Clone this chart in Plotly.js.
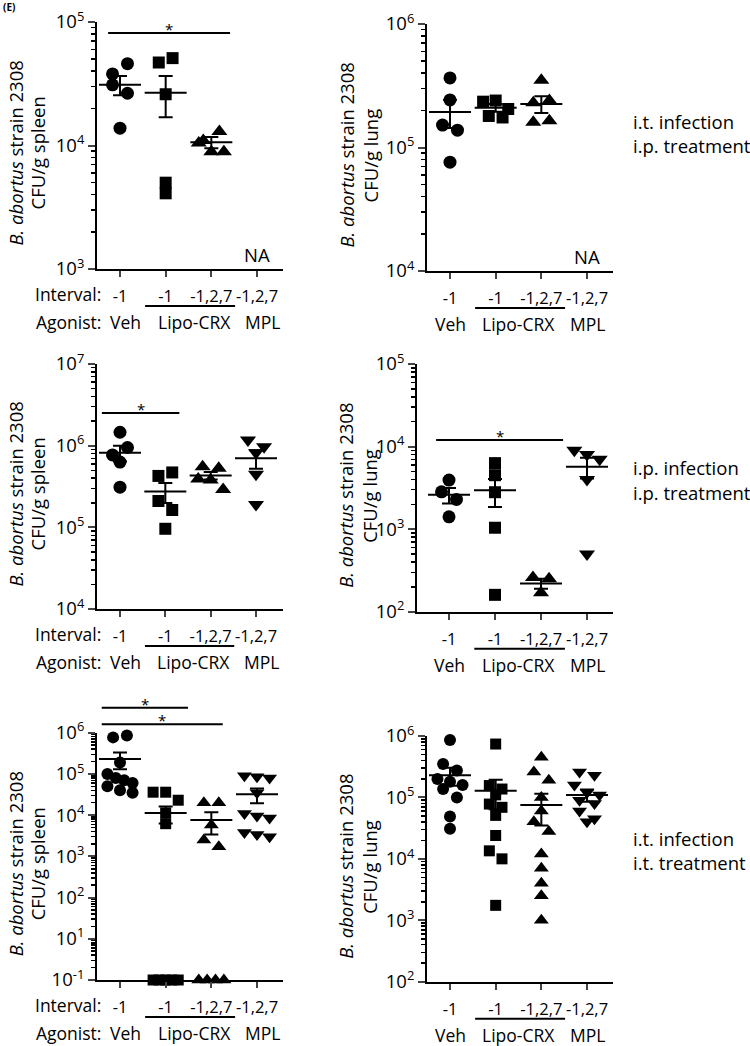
<!DOCTYPE html>
<html><head><meta charset="utf-8">
<script src="https://cdn.plot.ly/plotly-3.0.1.min.js"></script>
<style>body{margin:0;background:#fff}#chart{width:750px;height:1046px}</style>
</head><body><div id="chart"></div>
<script>
// ---------------- DATA ----------------
const intervalLabels = ["-1", "-1", "-1,2,7", "-1,2,7"];
const agonistLabels = ["Veh", "Lipo-CRX", "MPL"];
const routeLabels = [["i.t. infection", "i.p. treatment"], ["i.p. infection", "i.p. treatment"], ["i.t. infection", "i.t. treatment"]];

// Row 1: i.t. infection, i.p. treatment (NA for MPL)
const spleen1_veh   = [3.8e4, 4.6e4, 3.1e4, 2.65e4, 1.38e4];
const spleen1_lipo1 = [4.7e4, 5.1e4, 2.6e4, 4.1e3, 5.0e3];
const spleen1_lipo3 = [1.1e4, 1.3e4, 1.05e4, 8.9e3, 8.9e3];
const spleen1_mpl   = [];
const spleen1_mean  = [3.1e4, 2.67e4, 1.06e4, null];
const spleen1_sem   = [5.5e3, 9.8e3, 1.1e3, null];

const lung1_veh   = [3.66e5, 2.43e5, 1.52e5, 1.38e5, 7.6e4];
const lung1_lipo1 = [2.35e5, 2.4e5, 2.05e5, 1.8e5, 1.75e5];
const lung1_lipo3 = [3.5e5, 2.3e5, 2.4e5, 1.6e5, 1.65e5];
const lung1_mpl   = [];
const lung1_mean  = [1.94e5, 2.1e5, 2.25e5, null];
const lung1_sem   = [5.0e4, 1.5e4, 3.5e4, null];

// Row 2: i.p. infection, i.p. treatment
const spleen2_veh   = [1.46e6, 7.7e5, 9.5e5, 6.3e5, 3.1e5];
const spleen2_lipo1 = [4.26e5, 4.7e5, 2.1e5, 1.63e5, 9.6e4];
const spleen2_lipo3 = [5.5e5, 5.3e5, 3.9e5, 3.8e5, 2.9e5];
const spleen2_mpl   = [1.17e6, 9.7e5, 8.2e5, 4.46e5, 1.9e5];
const spleen2_mean  = [8.2e5, 2.74e5, 4.3e5, 7.0e5];
const spleen2_sem   = [1.8e5, 7.5e4, 4.5e4, 1.8e5];

const lung2_veh   = [3.93e3, 2.83e3, 2.29e3, 1.41e3];
const lung2_lipo1 = [6.3e3, 4.5e3, 2.8e3, 1.04e3, 1.6e2];
const lung2_lipo3 = [2.6e2, 2.5e2, 1.7e2];
const lung2_mpl   = [9.0e3, 8.0e3, 7.0e3, 4.0e3, 5.0e2];
const lung2_mean  = [2.6e3, 2.96e3, 2.2e2, 5.7e3];
const lung2_sem   = [5.5e2, 1.1e3, 3.0e1, 1.6e3];

// Row 3: i.t. infection, i.t. treatment (0.1 = below detection, drawn on the 10^-1 baseline)
const spleen3_veh   = [7.7e5, 8.5e5, 1.9e5, 1.0e5, 8.0e4, 7.0e4, 6.0e4, 5.0e4, 4.0e4, 3.5e4];
const spleen3_lipo1 = [3.6e4, 3.6e4, 2.3e4, 1.13e4, 6.2e3, 0.1, 0.1, 0.1, 0.1, 0.1];
const spleen3_lipo3 = [2.0e4, 2.0e4, 5.8e3, 2.5e3, 1.7e3, 0.1, 0.1, 0.1, 0.1];
const spleen3_mpl   = [9.0e4, 8.5e4, 8.0e4, 3.5e4, 1.1e4, 9.5e3, 8.5e3, 3.8e3, 3.4e3, 3.0e3];
const spleen3_mean  = [2.3e5, 1.13e4, 7.6e3, 3.2e4];
const spleen3_sem   = [1.0e5, 5.0e3, 4.2e3, 1.25e4];

const lung3_veh   = [8.6e5, 3.5e5, 2.0e5, 2.75e5, 1.8e5, 1.37e5, 1.6e5, 1.0e5, 3.1e4, 4.9e4];
const lung3_lipo1 = [7.4e5, 1.56e5, 1.37e5, 1.1e5, 7.8e4, 6.9e4, 5.1e4, 2.4e4, 1.35e4, 1.0e4, 1.75e3];
const lung3_lipo3 = [4.5e5, 2.6e5, 1.9e5, 1.0e5, 6.0e4, 4.0e4, 2.8e4, 1.2e4, 7.0e3, 4.0e3, 2.5e3, 1.0e3];
const lung3_mpl   = [2.6e5, 2.3e5, 1.6e5, 1.2e5, 1.1e5, 9.0e4, 8.0e4, 6.0e4, 4.5e4, 4.0e4];
const lung3_mean  = [2.3e5, 1.29e5, 7.5e4, 1.1e5];
const lung3_sem   = [7.5e4, 6.5e4, 4.0e4, 2.5e4];

// ---------------- LAYOUT HELPERS ----------------
const W = 750, H = 1046;
const FONT = "Open Sans, Noto Sans, sans-serif";
const FS = 18.5, XFS = 17.5, TFS = 16.5;
const px2x = x => x / W, px2y = y => 1 - y / H;
const symbols = ['circle', 'square', 'triangle-up', 'triangle-down'];

const panels = [
  {vals:[spleen1_veh,spleen1_lipo1,spleen1_lipo3,spleen1_mpl], mean:spleen1_mean, sem:spleen1_sem, organ:'spleen',
   px:[97,283], py:[22,269], yr:[3,5], cats:[120,257], left:true, ms:[13,12,14,14], na:true},
  {vals:[lung1_veh,lung1_lipo1,lung1_lipo3,lung1_mpl], mean:lung1_mean, sem:lung1_sem, organ:'lung',
   px:[427,613], py:[24,271], yr:[4,6], cats:[450,587], left:false, ms:[13,12,14,14], na:true},
  {vals:[spleen2_veh,spleen2_lipo1,spleen2_lipo3,spleen2_mpl], mean:spleen2_mean, sem:spleen2_sem, organ:'spleen',
   px:[97,283], py:[364,609], yr:[4,7], cats:[120,256], left:true, ms:[13,12,14,14]},
  {vals:[lung2_veh,lung2_lipo1,lung2_lipo3,lung2_mpl], mean:lung2_mean, sem:lung2_sem, organ:'lung',
   px:[417,613], py:[364,611.7], yr:[2,5], cats:[449,587], left:false, ms:[13,12,14,14]},
  {vals:[spleen3_veh,spleen3_lipo1,spleen3_lipo3,spleen3_mpl], mean:spleen3_mean, sem:spleen3_sem, organ:'spleen',
   px:[97,283], py:[732.7,980], yr:[0,6], cats:[120,257], left:true, ms:[12,11,13,13], brk:true},
  {vals:[lung3_veh,lung3_lipo1,lung3_lipo3,lung3_mpl], mean:lung3_mean, sem:lung3_sem, organ:'lung',
   px:[427,613], py:[736,981.7], yr:[2,6], cats:[450,587], left:false, ms:[12,11,13,13]}
];

// axis break for the bottom-left panel: values below detection sit on the lowest tick
const brk = v => (v <= 0.1 ? 1 : v);

function swarm(ypx, d, maxw) {
  const idx = ypx.map((y, i) => i).sort((a, b) => ypx[a] - ypx[b]);
  const off = new Array(ypx.length).fill(0);
  const rows = []; let cur = [], start = null;
  idx.forEach(i => {
    if (cur.length && ypx[i] - ypx[start] < 0.8 * d) cur.push(i);
    else { if (cur.length) rows.push(cur); cur = [i]; start = i; }
  });
  if (cur.length) rows.push(cur);
  rows.forEach(r => {
    r.sort((a, b) => a - b);
    const k = r.length; let sp = d * 1.15;
    if (k > 1 && (k - 1) * sp > maxw) sp = maxw / (k - 1);
    r.forEach((i, j) => off[i] = (j - (k - 1) / 2) * sp);
  });
  return off;
}

const data = [], shapes = [], annotations = [];
const layout = {width: W, height: H, margin: {l:0, r:0, t:0, b:0}, showlegend: false,
  paper_bgcolor: 'white', plot_bgcolor: 'white', font: {family: FONT, size: FS, color: 'black'}};

panels.forEach((p, i) => {
  const n = i + 1, xs = n === 1 ? '' : String(n);
  const xa = 'x' + xs, ya = 'y' + xs;
  const unit = (p.cats[1] - p.cats[0]) / 3;
  const xr = [-(p.cats[0] - p.px[0]) / unit, 3 + (p.px[1] - p.cats[1]) / unit];
  const plotH = p.py[1] - p.py[0];
  const tf = p.brk ? brk : (v => v);

  p.vals.forEach((vals, g) => {
    if (!vals.length) return;
    const yv = vals.map(tf);
    const ypx = yv.map(v => (p.yr[1] - Math.log10(v)) / (p.yr[1] - p.yr[0]) * plotH);
    const offs = swarm(ypx, p.ms[g], 0.55 * unit);
    data.push({type: 'scatter', mode: 'markers', xaxis: xa, yaxis: ya,
      x: offs.map(o => g + o / unit), y: yv, cliponaxis: false, hoverinfo: 'skip',
      marker: {symbol: symbols[g], size: p.ms[g], color: 'black', line: {width: 0}}});
  });
  const gi = [0, 1, 2, 3].filter(g => p.mean[g] != null);
  data.push({type: 'scatter', mode: 'markers', xaxis: xa, yaxis: ya, hoverinfo: 'skip', cliponaxis: false,
    x: gi, y: gi.map(g => p.mean[g]),
    marker: {symbol: 'line-ew', size: 30, color: 'black', line: {width: 2, color: 'black'}},
    error_y: {type: 'data', array: gi.map(g => p.sem[g]), visible: true, thickness: 2, width: 7, color: 'black'}});

  // y ticks
  const tv = [], tt = [], mv = [];
  for (let k = p.yr[0]; k <= p.yr[1]; k++) {
    tv.push(Math.pow(10, k));
    const lab = p.brk ? (k === 0 ? -1 : k) : k;
    tt.push('10<sup>' + lab + '</sup>');
    if (k < p.yr[1]) for (let m = 2; m <= 9; m++) mv.push(m * Math.pow(10, k));
  }
  layout['xaxis' + xs] = {domain: [px2x(p.px[0]), px2x(p.px[1])], anchor: ya, range: xr,
    tickvals: [0, 1, 2, 3], ticktext: intervalLabels, tickangle: 0, ticks: 'outside', ticklen: 6, tickwidth: 2,
    showline: true, linewidth: 2, linecolor: 'black', showgrid: false, zeroline: false,
    tickfont: {size: TFS}, ticklabelstandoff: 5, fixedrange: true};
  layout['yaxis' + xs] = {domain: [px2y(p.py[1]), px2y(p.py[0])], anchor: xa, type: 'log',
    range: [p.yr[0], p.yr[1]], tickvals: tv, ticktext: tt, ticks: 'outside', ticklen: 7, tickwidth: 2,
    showline: true, linewidth: 2, linecolor: 'black', showgrid: false, zeroline: false,
    tickfont: {size: FS}, fixedrange: true,
    minor: {tickvals: mv, ticks: 'outside', ticklen: 4, tickwidth: 1.5, tickcolor: 'black', showgrid: false}};

  // y title (two lines)
  const tx = p.left ? [15, 37] : [346, 370];
  const cy = (p.py[0] + p.py[1]) / 2 + 8;
  annotations.push({xref: 'paper', yref: 'paper', x: px2x(tx[0]), y: px2y(cy), text: '<i>B. abortus</i> strain 2308',
    textangle: -90, showarrow: false, xanchor: 'center', yanchor: 'middle', font: {size: FS}});
  annotations.push({xref: 'paper', yref: 'paper', x: px2x(tx[1]), y: px2y(cy), text: 'CFU/g ' + p.organ,
    textangle: -90, showarrow: false, xanchor: 'center', yanchor: 'middle', font: {size: FS}});

  // agonist row
  const base = p.py[1];
  const sh = p.left ? 0.13 : 0;
  [[agonistLabels[0], 0], [agonistLabels[1], 1.5], [agonistLabels[2], 3]].forEach(([t, xx]) => {
    annotations.push({xref: xa, yref: 'paper', x: xx + sh, y: px2y(base + 53), text: t, showarrow: false,
      xanchor: 'center', yanchor: 'middle', font: {size: XFS}});
  });
  shapes.push({type: 'line', xref: xa, yref: 'paper', x0: 0.55, x1: 2.52, y0: px2y(base + 37), y1: px2y(base + 37),
    line: {color: 'black', width: 2}});
  if (p.left) {
    annotations.push({xref: 'paper', yref: 'paper', x: px2x(103), y: px2y(base + 25), text: 'Interval:',
      showarrow: false, xanchor: 'right', yanchor: 'middle', font: {size: XFS}});
    annotations.push({xref: 'paper', yref: 'paper', x: px2x(103), y: px2y(base + 53), text: 'Agonist:',
      showarrow: false, xanchor: 'right', yanchor: 'middle', font: {size: XFS}});
  }
  if (p.na) {
    annotations.push({xref: xa, yref: 'paper', x: 3.0, y: px2y(base - 15), text: 'NA', showarrow: false,
      xanchor: 'center', yanchor: 'middle', font: {size: FS}});
  }
});

// significance bars (x in category units of each panel, y in pixels)
const sig = [
  {ax: 'x', x0: -0.26, x1: 2.41, y: 33},
  {ax: 'x3', x0: -0.4, x1: 1.31, y: 413},
  {ax: 'x4', x0: -0.28, x1: 2.48, y: 440},
  {ax: 'x5', x0: -0.4, x1: 1.49, y: 707.7},
  {ax: 'x5', x0: -0.4, x1: 2.25, y: 724.3}
];
sig.forEach(s => {
  shapes.push({type: 'line', xref: s.ax, yref: 'paper', x0: s.x0, x1: s.x1, y0: px2y(s.y), y1: px2y(s.y),
    line: {color: 'black', width: 2}});
  annotations.push({xref: s.ax, yref: 'paper', x: (s.x0 + s.x1) / 2, y: px2y(s.y - 4), text: '*', showarrow: false,
    xanchor: 'center', yanchor: 'middle', font: {size: 15}});
});

// route labels
[[122, 145], [467, 492], [838, 862]].forEach((ys, r) => {
  ys.forEach((y, j) => annotations.push({xref: 'paper', yref: 'paper', x: px2x(631), y: px2y(y),
    text: routeLabels[r][j], showarrow: false, xanchor: 'left', yanchor: 'middle', font: {size: FS}}));
});
annotations.push({xref: 'paper', yref: 'paper', x: px2x(1), y: px2y(7), text: '<b>(E)</b>', showarrow: false,
  xanchor: 'left', yanchor: 'middle', font: {size: 10}});

layout.shapes = shapes;
layout.annotations = annotations;
Plotly.newPlot('chart', data, layout, {staticPlot: true, displayModeBar: false});
</script>
</body></html>
